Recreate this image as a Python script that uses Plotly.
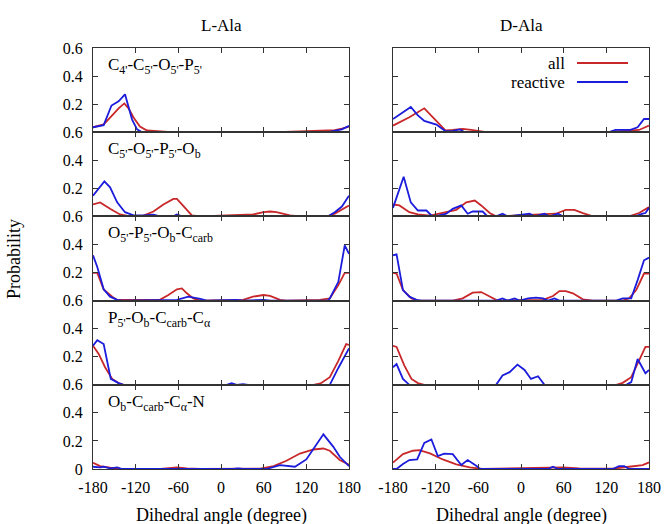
import plotly.graph_objects as go
from plotly.subplots import make_subplots

# ---------------- data (angle in degree, probability) ----------------
# Row 1: C4'-C5'-O5'-P5'
L1_ALL_X = [-180, -165, -153, -144, -136, -130, -123, -114, -104, -90, -70, 80, 100, 140, 160, 170, 180]
L1_ALL_Y = [0.035, 0.055, 0.12, 0.17, 0.205, 0.17, 0.105, 0.04, 0.012, 0.005, 0, 0, 0.003, 0.01, 0.015, 0.025, 0.04]
L1_REA_X = [-180, -165, -154, -144, -135, -125, -118, -111, 150, 160, 170, 180]
L1_REA_Y = [0.035, 0.05, 0.19, 0.22, 0.27, 0.09, 0.02, 0, 0, 0.01, 0.02, 0.045]
D1_ALL_X = [-180, -157, -136, -124, -106, -96, -82, -70, -58, -49, 119, 143, 166, 180]
D1_ALL_Y = [0.047, 0.106, 0.17, 0.106, 0.012, 0.016, 0.024, 0.016, 0.005, 0, 0, 0.007, 0.016, 0.047]
D1_REA_X = [-180, -155, -145, -136, -119, -106, -96, -86, -79, 124, 133, 154, 164, 173, 180]
D1_REA_Y = [0.094, 0.18, 0.12, 0.08, 0.054, 0.007, 0.01, 0.02, 0, 0, 0.016, 0.016, 0.035, 0.094, 0.094]

# Row 2: C5'-O5'-P5'-Ob
L2_ALL_X = [-180, -170, -156, -142, -128, -109, -95, -81, -67, -62, -55, -41, -29, 45, 60, 69, 78, 97, 111, 150, 160, 170, 180]
L2_ALL_Y = [0.085, 0.10, 0.054, 0.014, 0, 0.005, 0.035, 0.085, 0.125, 0.125, 0.085, 0.007, 0, 0.014, 0.03, 0.035, 0.03, 0.007, 0, 0, 0.02, 0.05, 0.078]
L2_REA_X = [-180, -164, -156, -146, -135, -123, -109, -95, -86, -67, -62, -55, 150, 160, 170, 180]
L2_REA_Y = [0.148, 0.25, 0.207, 0.10, 0.03, 0.007, 0.007, 0.012, 0, 0, 0.014, 0, 0, 0.03, 0.07, 0.148]
D2_ALL_X = [-180, -171, -157, -145, -128, -110, -91, -77, -65, -56, -44, -35, 49, 63, 75, 87, 101, 152, 166, 180]
D2_ALL_Y = [0.085, 0.078, 0.03, 0.014, 0.005, 0.024, 0.047, 0.10, 0.113, 0.078, 0.024, 0, 0.019, 0.047, 0.047, 0.024, 0, 0, 0.024, 0.066]
D2_REA_X = [-180, -165, -155, -145, -133, -126, -121, -105, -96, -84, -75, -68, -54, -47, -35, -26, -19, 12, 19, 33, 40, 52, 59, 161, 171, 175, 180]
D2_REA_Y = [0.061, 0.283, 0.10, 0.042, 0.042, 0.007, 0, 0.019, 0.054, 0.078, 0.019, 0.035, 0.035, 0, 0, 0.019, 0, 0.019, 0, 0.019, 0, 0.019, 0, 0, 0.019, 0.024, 0.061]

# Row 3: O5'-P5'-Ob-Ccarb
L3_ALL_X = [-180, -174, -165, -153, -146, -86, -74, -62, -55, -48, -39, -29, 31, 45, 60, 69, 83, 92, 139, 153, 165, 174, 180]
L3_ALL_Y = [0.198, 0.198, 0.08, 0.028, 0.005, 0.005, 0.04, 0.08, 0.087, 0.052, 0.016, 0, 0.005, 0.028, 0.04, 0.033, 0.005, 0, 0.005, 0.016, 0.11, 0.198, 0.198]
L3_REA_X = [-180, -174, -165, -156, -146, -139, -62, -46, -29, -20, 22, 31, 60, 70, 150, 153, 165, 174, 180]
L3_REA_Y = [0.323, 0.24, 0.08, 0.028, 0.005, 0, 0.005, 0.028, 0.012, 0, 0.005, 0, 0.005, 0, 0, 0.016, 0.134, 0.393, 0.334]
D3_ALL_X = [-180, -175, -166, -154, -145, -96, -82, -68, -56, -44, -33, 31, 45, 54, 63, 73, 87, 101, 143, 152, 162, 173, 180]
D3_ALL_Y = [0.198, 0.193, 0.075, 0.016, 0, 0, 0.016, 0.057, 0.061, 0.028, 0, 0.005, 0.033, 0.068, 0.068, 0.052, 0.009, 0, 0, 0.016, 0.075, 0.193, 0.193]
D3_REA_X = [-180, -175, -166, -157, -147, -140, -35, -26, -19, -9, -2, 10, 21, 31, 38, 47, 54, 134, 143, 155, 164, 173, 180]
D3_REA_Y = [0.323, 0.33, 0.075, 0.028, 0.005, 0, 0, 0.016, 0, 0.016, 0, 0.016, 0.021, 0.016, 0, 0.016, 0, 0, 0.016, 0.016, 0.146, 0.287, 0.306]

# Row 4: P5'-Ob-Ccarb-Calpha
L4_ALL_X = [-180, -172, -163, -153, -144, -137, 130, 140, 153, 165, 176, 180]
L4_ALL_Y = [0.278, 0.22, 0.125, 0.042, 0.012, 0, 0, 0.01, 0.054, 0.17, 0.29, 0.285]
L4_REA_X = [-180, -174, -165, -155, -144, -137, 8, 15, 22, 31, 38, 153, 165, 180]
L4_REA_Y = [0.278, 0.318, 0.29, 0.042, 0.012, 0, 0, 0.012, 0, 0.005, 0, 0, 0.12, 0.26]
D4_ALL_X = [-180, -175, -164, -154, -145, -136, 134, 143, 155, 166, 175, 180]
D4_ALL_Y = [0.278, 0.27, 0.137, 0.042, 0.012, 0, 0, 0.014, 0.054, 0.172, 0.27, 0.27]
D4_REA_X = [-180, -175, -166, -157, -35, -26, -16, -5, 5, 14, 24, 33, 148, 155, 164, 175, 180]
D4_REA_Y = [0.125, 0.148, 0.042, 0, 0, 0.066, 0.09, 0.144, 0.106, 0.042, 0.061, 0, 0, 0.019, 0.184, 0.082, 0.106]

# Row 5: Ob-Ccarb-Calpha-N
L5_ALL_X = [-180, -170, -156, -142, -85, -62, -48, -29, 55, 74, 92, 111, 130, 144, 153, 167, 180]
L5_ALL_Y = [0.045, 0.021, 0.009, 0.002, 0, 0.012, 0.005, 0, 0.002, 0.021, 0.059, 0.11, 0.139, 0.146, 0.13, 0.064, 0.03]
L5_REA_X = [-180, -170, -165, -156, -146, -139, 17, 24, 31, 64, 83, 92, 104, 120, 144, 158, 167, 180]
L5_REA_Y = [0.016, 0.012, 0.016, 0.005, 0.012, 0, 0, 0.005, 0, 0, 0.028, 0.021, 0.016, 0.068, 0.247, 0.158, 0.087, 0.02]
D5_ALL_X = [-180, -166, -152, -143, -128, -110, -91, -72, -54, 31, 59, 82, 129, 152, 171, 180]
D5_ALL_Y = [0.045, 0.106, 0.13, 0.134, 0.111, 0.068, 0.033, 0.012, 0, 0.005, 0.012, 0.005, 0.002, 0.016, 0.028, 0.047]
D5_REA_X = [-180, -175, -166, -157, -146, -136, -126, -117, -108, -96, -84, -75, -63, -58, 38, 45, 52, 129, 138, 145, 152, 180]
D5_REA_Y = [0, 0, 0.035, 0.064, 0.068, 0.186, 0.21, 0.092, 0.11, 0.106, 0.028, 0.064, 0.024, 0, 0, 0.016, 0, 0, 0.021, 0.021, 0, 0]

COLUMN_TITLES = ["L-Ala", "D-Ala"]
ROW_LABELS = [
    "C<sub>4'</sub>-C<sub>5'</sub>-O<sub>5'</sub>-P<sub>5'</sub>",
    "C<sub>5'</sub>-O<sub>5'</sub>-P<sub>5'</sub>-O<sub>b</sub>",
    "O<sub>5'</sub>-P<sub>5'</sub>-O<sub>b</sub>-C<sub>carb</sub>",
    "P<sub>5'</sub>-O<sub>b</sub>-C<sub>carb</sub>-C<sub>α</sub>",
    "O<sub>b</sub>-C<sub>carb</sub>-C<sub>α</sub>-N",
]
SERIES_NAMES = ["all", "reactive"]
X_TICKS = [-180, -120, -60, 0, 60, 120, 180]
X_TICK_TEXT = ["-180", "-120", "-60", "0", "60", "120", "180"]
Y_TICKS_TOP = [0.2, 0.4, 0.6]
Y_TICKS_BOTTOM = [0, 0.2, 0.4, 0.6]

PANELS = [
    [(L1_ALL_X, L1_ALL_Y, L1_REA_X, L1_REA_Y), (D1_ALL_X, D1_ALL_Y, D1_REA_X, D1_REA_Y)],
    [(L2_ALL_X, L2_ALL_Y, L2_REA_X, L2_REA_Y), (D2_ALL_X, D2_ALL_Y, D2_REA_X, D2_REA_Y)],
    [(L3_ALL_X, L3_ALL_Y, L3_REA_X, L3_REA_Y), (D3_ALL_X, D3_ALL_Y, D3_REA_X, D3_REA_Y)],
    [(L4_ALL_X, L4_ALL_Y, L4_REA_X, L4_REA_Y), (D4_ALL_X, D4_ALL_Y, D4_REA_X, D4_REA_Y)],
    [(L5_ALL_X, L5_ALL_Y, L5_REA_X, L5_REA_Y), (D5_ALL_X, D5_ALL_Y, D5_REA_X, D5_REA_Y)],
]

# ---------------- styling ----------------
RED = "#c8282a"
BLUE = "#1c1cdc"
LW = 1.8
FONT = "Liberation Serif, Times New Roman, serif"
W, H = 667, 524
ML, MR, MT, MB = 93, 18, 48, 55
PW = W - ML - MR
PH = H - MT - MB
GAP = 44

fig = make_subplots(rows=5, cols=2, horizontal_spacing=GAP / PW, vertical_spacing=0)

for r in range(5):
    for c in range(2):
        ax, ay, rx, ry = PANELS[r][c]
        fig.add_trace(go.Scatter(x=ax, y=ay, mode="lines", line=dict(color=RED, width=LW),
                                 name=SERIES_NAMES[0], showlegend=False, hoverinfo="skip"),
                      row=r + 1, col=c + 1)
        fig.add_trace(go.Scatter(x=rx, y=ry, mode="lines", line=dict(color=BLUE, width=LW),
                                 name=SERIES_NAMES[1], showlegend=False, hoverinfo="skip"),
                      row=r + 1, col=c + 1)
        fig.update_xaxes(range=[-180, 180], tickvals=X_TICKS, ticktext=X_TICK_TEXT,
                         showticklabels=(r == 4),
                         ticks="inside", ticklen=5, tickcolor="#333", mirror="ticks",
                         showline=True, linecolor="#333", linewidth=1, showgrid=False, zeroline=False,
                         tickfont=dict(family=FONT, size=16, color="black"), ticklabelstandoff=4,
                         automargin=False, row=r + 1, col=c + 1)
        fig.update_yaxes(range=[0, 0.6], tickvals=(Y_TICKS_BOTTOM if r == 4 else Y_TICKS_TOP),
                         showticklabels=(c == 0),
                         ticks="inside", ticklen=5, tickcolor="#333", mirror="ticks",
                         showline=True, linecolor="#333", linewidth=1, showgrid=False, zeroline=False,
                         tickfont=dict(family=FONT, size=16, color="black"), ticklabelstandoff=6,
                         automargin=False, row=r + 1, col=c + 1)

annotations = []
# Row labels in left panels
for r in range(5):
    idx = r * 2 + 1
    xref = "x domain" if idx == 1 else f"x{idx} domain"
    yref = "y domain" if idx == 1 else f"y{idx} domain"
    annotations.append(dict(text=ROW_LABELS[r], xref=xref, yref=yref, x=0.05, y=0.94,
                            xanchor="left", yanchor="top", showarrow=False,
                            font=dict(family=FONT, size=17, color="black")))

def px_x(p):
    return (p - ML) / PW

def px_y(p):
    return (H - MB - p) / PH

# Column titles
annotations.append(dict(text=COLUMN_TITLES[0], xref="paper", yref="paper", x=px_x(221), y=px_y(25),
                        xanchor="center", yanchor="middle", showarrow=False,
                        font=dict(family=FONT, size=17, color="black")))
annotations.append(dict(text=COLUMN_TITLES[1], xref="paper", yref="paper", x=px_x(521), y=px_y(25),
                        xanchor="center", yanchor="middle", showarrow=False,
                        font=dict(family=FONT, size=17, color="black")))
# Axis titles
for cx in (221, 521):
    annotations.append(dict(text="Dihedral angle (degree)", xref="paper", yref="paper", x=px_x(cx), y=px_y(515),
                            xanchor="center", yanchor="middle", showarrow=False,
                            font=dict(family=FONT, size=18, color="black")))
annotations.append(dict(text="Probability", xref="paper", yref="paper", x=px_x(14), y=px_y(259),
                        xanchor="center", yanchor="middle", textangle=-90, showarrow=False,
                        font=dict(family=FONT, size=18, color="black")))

# Legend (text right, line sample on the right, as in the reference)
shapes = []
for i, (name, col) in enumerate(zip(SERIES_NAMES, [RED, BLUE])):
    yy = 63 + i * 19
    annotations.append(dict(text=name, xref="paper", yref="paper", x=px_x(567), y=px_y(yy),
                            xanchor="right", yanchor="middle", showarrow=False,
                            font=dict(family=FONT, size=17, color="black")))
    shapes.append(dict(type="line", xref="paper", yref="paper", x0=px_x(577), x1=px_x(628),
                       y0=px_y(yy), y1=px_y(yy), line=dict(color=col, width=LW)))

fig.update_layout(width=W, height=H, margin=dict(l=ML, r=MR, t=MT, b=MB, autoexpand=False),
                  plot_bgcolor="white", paper_bgcolor="white",
                  annotations=annotations, shapes=shapes, showlegend=False,
                  font=dict(family=FONT, size=16, color="black"))

fig.write_html("out.html", config={"displayModeBar": False},
               post_script="document.body.style.margin='0';document.body.style.overflow='hidden';")
